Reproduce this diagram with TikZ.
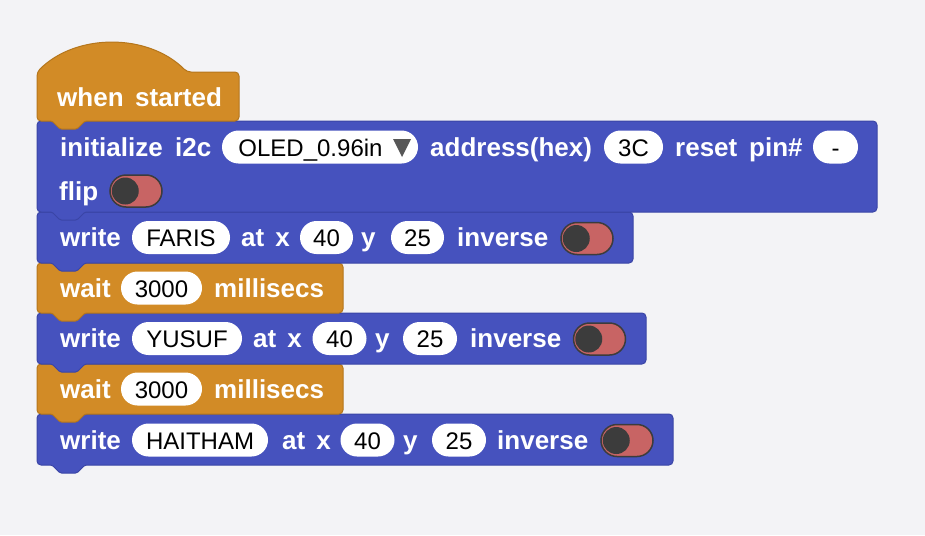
\documentclass[tikz,border=0pt]{standalone}
\usepackage{fontspec}
\setmainfont{Liberation Sans}
\definecolor{bg}{HTML}{F3F3F6}
\definecolor{blu}{HTML}{4652BE}
\definecolor{bluE}{HTML}{3A45A6}
\definecolor{org}{HTML}{D28B26}
\definecolor{orgE}{HTML}{B5761C}
\definecolor{tog}{HTML}{C86464}
\definecolor{knob}{HTML}{3C3C3C}
\definecolor{tri}{HTML}{575757}
\tikzset{
 lbl/.style={text=white,font=\fontsize{26}{30}\selectfont\bfseries,inner sep=0pt,anchor=base west},
 pill/.style={fill=white,rounded corners=16.5pt,minimum height=33pt,inner sep=0pt,text height=18pt,text depth=0pt,font=\fontsize{24}{29}\selectfont,text=black},
 blueblk/.style={fill=blu,draw=bluE,line width=1pt},
 orgblk/.style={fill=org,draw=orgE,line width=1pt},
 togbox/.style={fill=tog,draw=knob,line width=1.5pt,rounded corners=16pt,minimum width=52pt,minimum height=32pt,inner sep=0pt},
}
\newcommand\blk[4]{\path[#1,rounded corners=4pt] (37,#3) -- (#2,#3) -- (#2,#4) [rounded corners=1.5pt] -- (85,#4) -- (77,#4+8) -- (60,#4+8) -- (52,#4) [rounded corners=4pt] -- (37,#4) -- cycle;}
\newcommand\tgl[3]{\node[togbox] (#1) at (#2,#3) {}; \fill[knob] ([xshift=16pt]#1.west) circle (13.5pt);}
\begin{document}
\begin{tikzpicture}[x=1pt,y=-1pt]
\fill[bg] (0,0) rectangle (925,535);
\useasboundingbox (0,0) rectangle (925,535);
% blocks, bottom first
\blk{blueblk}{673}{414}{465}
\blk{orgblk}{343}{364}{414}
\blk{blueblk}{646}{313}{364}
\blk{orgblk}{343}{263}{313}
\blk{blueblk}{633}{212}{263}
\blk{blueblk}{877}{121}{212}
\path[orgblk,rounded corners=4pt] (37,121) -- (37,72) .. controls (76,33) and (148,33) .. (187,72) -- (239,72) -- (239,121) [rounded corners=1.5pt] -- (85,121) -- (77,129) -- (60,129) -- (52,121) [rounded corners=4pt] -- cycle;
% hat
\node[lbl] (w1) at (57,106) {when};
\node[lbl] (w2) at (135,106) {started};
% init
\node[lbl] (i1) at (60,156) {initialize};
\node[lbl] (i2) at (175,156) {i2c};
\node[pill,minimum width=196pt] (oled) at (320,147) {\hspace*{-19pt}OLED\_0.96in};
\fill[tri] (393,139) -- (411,139) -- (402,157) -- cycle;
\node[lbl] (i3) at (430,156) {address(hex)};
\node[pill,minimum width=59pt] (hex) at (633.5,147) {3C};
\node[lbl] (i4) at (675,156) {reset};
\node[lbl] (i5) at (749,156) {pin\#};
\node[pill,minimum width=45pt] (pin) at (835.5,147) {-};
\node[lbl] (f1) at (59,200) {flip};
\tgl{tflip}{136}{191}
% write 1
\node[lbl] (a1) at (60,246.5) {write};
\node[pill,minimum width=98pt] (a2) at (181,237.5) {FARIS};
\node[lbl] (a3) at (241,246.5) {at\hskip11pt x};
\node[pill,minimum width=53pt] (a4) at (326.5,237.5) {40};
\node[lbl] (a5) at (361,246.5) {y};
\node[pill,minimum width=53pt] (a6) at (417.5,237.5) {25};
\node[lbl] (a7) at (457,246.5) {inverse};
\tgl{ta}{587}{238.5}
% wait 1
\node[lbl] (b1) at (60,297) {wait};
\node[pill,minimum width=81pt] (b2) at (161.5,288) {3000};
\node[lbl] (b3) at (214,297) {millisecs};
% write 2
\node[lbl] (c1) at (60,347.5) {write};
\node[pill,minimum width=110pt] (c2) at (187,338.5) {YUSUF};
\node[lbl] (c3) at (253,347.5) {at\hskip11pt x};
\node[pill,minimum width=54pt] (c4) at (339.5,338.5) {40};
\node[lbl] (c5) at (375,347.5) {y};
\node[pill,minimum width=54pt] (c6) at (430,338.5) {25};
\node[lbl] (c7) at (470,347.5) {inverse};
\tgl{tc}{599.5}{339}
% wait 2
\node[lbl] (d1) at (60,398) {wait};
\node[pill,minimum width=81pt] (d2) at (161.5,389) {3000};
\node[lbl] (d3) at (214,398) {millisecs};
% write 3
\node[lbl] (e1) at (60,449) {write};
\node[pill,minimum width=136pt] (e2) at (200,440) {HAITHAM};
\node[lbl] (e3) at (282,449) {at\hskip11pt x};
\node[pill,minimum width=54pt] (e4) at (367.5,440) {40};
\node[lbl] (e5) at (403,449) {y};
\node[pill,minimum width=54pt] (e6) at (459,440) {25};
\node[lbl] (e7) at (497,449) {inverse};
\tgl{te}{627}{440.5}
\end{tikzpicture}
\end{document}
